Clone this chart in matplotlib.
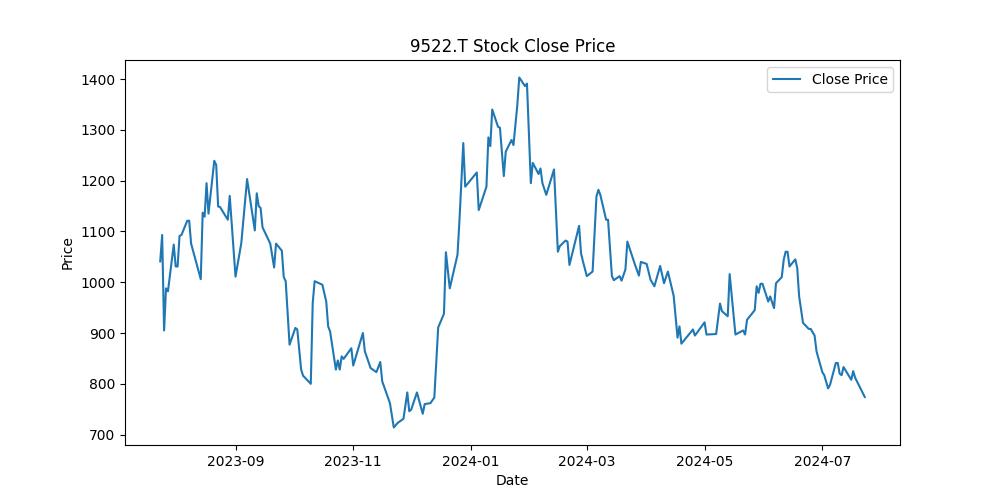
import pandas as pd
import matplotlib
matplotlib.use('Agg')
import matplotlib.pyplot as plt

# Close prices (approximate)
dates = [
    "2023-07-24", "2023-07-25", "2023-07-26", "2023-07-27", "2023-07-28", "2023-07-31",
    "2023-08-01", "2023-08-02", "2023-08-03", "2023-08-04", "2023-08-07", "2023-08-08",
    "2023-08-09", "2023-08-14", "2023-08-15", "2023-08-16", "2023-08-17", "2023-08-18",
    "2023-08-21", "2023-08-22", "2023-08-23", "2023-08-24", "2023-08-28", "2023-08-29",
    "2023-09-01", "2023-09-04", "2023-09-07", "2023-09-11", "2023-09-12", "2023-09-13",
    "2023-09-14", "2023-09-15", "2023-09-19", "2023-09-21", "2023-09-22", "2023-09-25",
    "2023-09-26", "2023-09-27", "2023-09-29", "2023-10-02", "2023-10-03", "2023-10-05",
    "2023-10-06", "2023-10-10", "2023-10-11", "2023-10-12", "2023-10-16", "2023-10-18",
    "2023-10-19", "2023-10-20", "2023-10-23", "2023-10-24", "2023-10-25", "2023-10-26",
    "2023-10-27", "2023-10-31", "2023-11-01", "2023-11-06", "2023-11-07", "2023-11-10",
    "2023-11-13", "2023-11-15", "2023-11-16", "2023-11-20", "2023-11-22", "2023-11-24",
    "2023-11-27", "2023-11-29", "2023-11-30", "2023-12-01", "2023-12-04", "2023-12-07",
    "2023-12-08", "2023-12-11", "2023-12-13", "2023-12-15", "2023-12-18", "2023-12-19",
    "2023-12-21", "2023-12-25", "2023-12-26", "2023-12-28", "2023-12-29", "2024-01-04",
    "2024-01-05", "2024-01-09", "2024-01-10", "2024-01-11", "2024-01-12", "2024-01-15",
    "2024-01-16", "2024-01-18", "2024-01-19", "2024-01-22", "2024-01-23", "2024-01-25",
    "2024-01-26", "2024-01-29", "2024-01-30", "2024-02-01", "2024-02-02", "2024-02-05",
    "2024-02-06", "2024-02-07", "2024-02-09", "2024-02-13", "2024-02-15", "2024-02-16",
    "2024-02-19", "2024-02-20", "2024-02-21", "2024-02-26", "2024-02-27", "2024-02-28",
    "2024-03-01", "2024-03-04", "2024-03-06", "2024-03-07", "2024-03-08", "2024-03-11",
    "2024-03-12", "2024-03-14", "2024-03-15", "2024-03-18", "2024-03-19", "2024-03-21",
    "2024-03-22", "2024-03-26", "2024-03-28", "2024-03-29", "2024-04-01", "2024-04-03",
    "2024-04-05", "2024-04-08", "2024-04-10", "2024-04-12", "2024-04-15", "2024-04-17",
    "2024-04-18", "2024-04-19", "2024-04-22", "2024-04-25", "2024-04-26", "2024-05-01",
    "2024-05-02", "2024-05-07", "2024-05-09", "2024-05-10", "2024-05-13", "2024-05-14",
    "2024-05-17", "2024-05-21", "2024-05-22", "2024-05-23", "2024-05-27", "2024-05-28",
    "2024-05-29", "2024-05-30", "2024-05-31", "2024-06-03", "2024-06-04", "2024-06-06",
    "2024-06-07", "2024-06-10", "2024-06-11", "2024-06-12", "2024-06-13", "2024-06-14",
    "2024-06-17", "2024-06-18", "2024-06-19", "2024-06-21", "2024-06-24", "2024-06-25",
    "2024-06-27", "2024-06-28", "2024-07-01", "2024-07-02", "2024-07-04", "2024-07-05",
    "2024-07-08", "2024-07-09", "2024-07-10", "2024-07-11", "2024-07-12", "2024-07-16",
    "2024-07-17", "2024-07-18", "2024-07-23",
]

close = [
    1041, 1093, 905, 988, 982, 1074,
    1031, 1031, 1091, 1093, 1121, 1121,
    1076, 1006, 1137, 1129, 1195, 1135,
    1239, 1231, 1149, 1148, 1123, 1170,
    1011, 1077, 1203, 1102, 1175, 1150,
    1146, 1108, 1076, 1029, 1076, 1062,
    1010, 1002, 877, 910, 907, 828,
    816, 800, 959, 1002, 995, 962,
    913, 903, 828, 846, 828, 854,
    849, 870, 836, 900, 864, 831,
    823, 843, 805, 762, 714, 723,
    731, 783, 746, 749, 783, 741,
    760, 762, 773, 911, 938, 1059,
    988, 1054, 1120, 1274, 1188, 1216,
    1142, 1188, 1285, 1268, 1340, 1306,
    1304, 1209, 1257, 1280, 1270, 1349,
    1403, 1386, 1391, 1195, 1235, 1213,
    1224, 1195, 1172, 1222, 1060, 1071,
    1082, 1080, 1034, 1111, 1057, 1041,
    1012, 1021, 1169, 1182, 1172, 1123,
    1123, 1012, 1004, 1012, 1003, 1025,
    1080, 1034, 1013, 1040, 1036, 1005,
    992, 1032, 998, 1021, 973, 891,
    913, 879, 893, 907, 895, 921,
    897, 898, 958, 943, 933, 1016,
    897, 905, 897, 926, 945, 992,
    979, 997, 997, 962, 972, 949,
    998, 1010, 1044, 1060, 1060, 1031,
    1045, 1028, 972, 920, 908, 908,
    895, 864, 823, 817, 791, 798,
    841, 841, 820, 817, 833, 808,
    825, 812, 774,
]

ticker = "9522.T"

df = pd.DataFrame({"Date": pd.to_datetime(dates), "Close": close})

fig, ax = plt.subplots(figsize=(10, 5), dpi=100)
ax.plot(df["Date"], df["Close"], label="Close Price")
ax.set_title(f"{ticker} Stock Close Price")
ax.set_xlabel("Date")
ax.set_ylabel("Price")
ax.legend()

fig.savefig("out.png")
